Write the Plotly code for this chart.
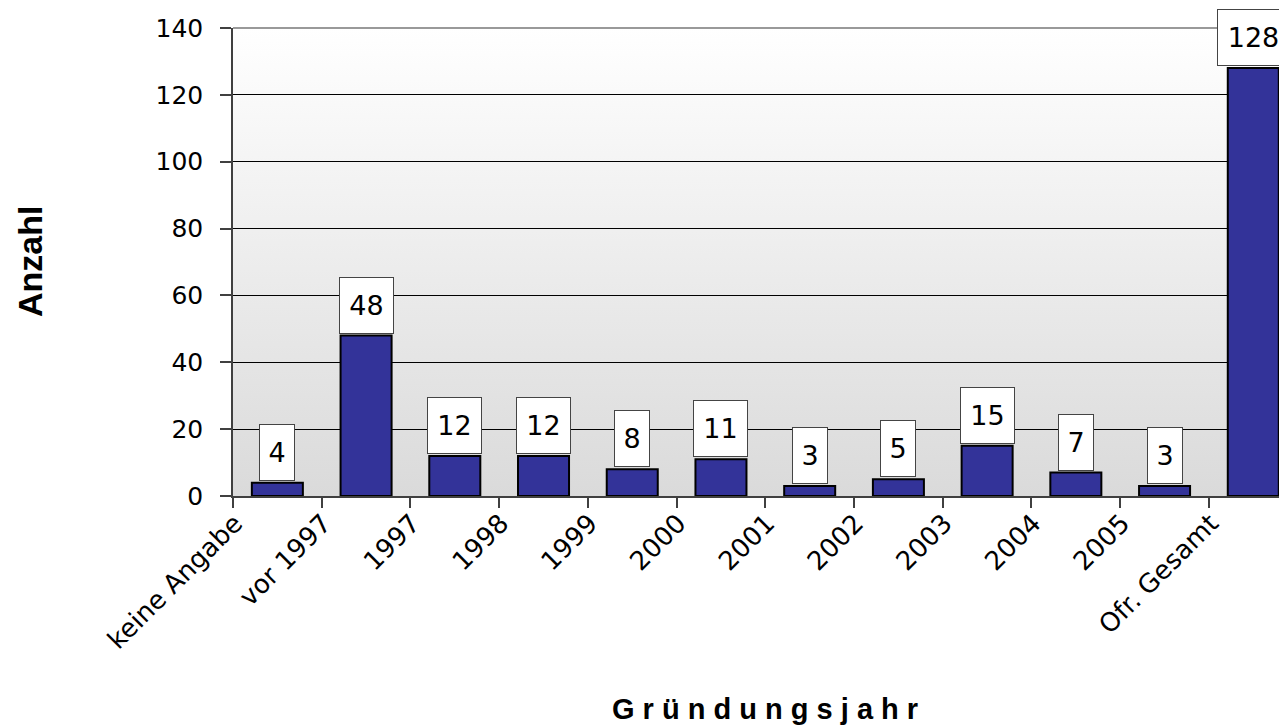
import base64
import plotly.graph_objects as go

categories = ["keine Angabe", "vor 1997", "1997", "1998", "1999", "2000",
              "2001", "2002", "2003", "2004", "2005", "Ofr. Gesamt"]
values = [4, 48, 12, 12, 8, 11, 3, 5, 15, 7, 3, 128]
y_ticks = [0, 20, 40, 60, 80, 100, 120, 140]
grid_vals = [20, 40, 60, 80, 100, 120]

x_pos = list(range(len(categories)))

svg = ('<svg xmlns="http://www.w3.org/2000/svg" width="10" height="100" preserveAspectRatio="none">'
       '<defs><linearGradient id="g" x1="0" y1="0" x2="0" y2="1">'
       '<stop offset="0" stop-color="#ffffff"/><stop offset="1" stop-color="#dadada"/>'
       '</linearGradient></defs><rect width="10" height="100" fill="url(#g)"/></svg>')
svg_uri = "data:image/svg+xml;base64," + base64.b64encode(svg.encode()).decode()

fig = go.Figure()
fig.add_trace(go.Bar(
    x=x_pos, y=values, width=0.575,
    marker=dict(color="#333399", line=dict(color="black", width=2)),
    hoverinfo="skip",
))

AX = "#404040"
# page body has an 8px default margin: figure is 1279x719 drawn from (8, 8)
W, H = 1279, 719
ML, MT, MB = 225, 19.5, 231
plot_h = H - MT - MB

fig.update_layout(
    width=W, height=H,
    margin=dict(l=ML, r=0, t=MT, b=MB),
    paper_bgcolor="white", plot_bgcolor="rgba(0,0,0,0)",
    showlegend=False,
    font=dict(family="DejaVu Sans", size=26, color="black"),
    xaxis=dict(
        range=[-0.5, 11.38],
        tickmode="array",
        tickvals=[i - 0.5 + 0.02 for i in x_pos],
        ticktext=categories,
        tickangle=-45,
        ticks="",
        showgrid=False, zeroline=False,
        showline=True, linecolor=AX, linewidth=1.5,
        tickfont=dict(family="DejaVu Sans", size=26),
        minor=dict(tickmode="array", tickvals=[i - 0.5 for i in x_pos],
                   ticks="outside", ticklen=10, tickwidth=1.5, tickcolor=AX, showgrid=False),
    ),
    yaxis=dict(
        range=[0, 140],
        tickmode="array", tickvals=y_ticks,
        ticks="outside", ticklen=11, tickwidth=1.5, tickcolor=AX,
        ticklabelstandoff=12,
        showgrid=False,
        minor=dict(tickmode="array", tickvals=grid_vals, ticks="",
                   showgrid=True, gridcolor="black", gridwidth=1),
        zeroline=False,
        showline=True, linecolor=AX, linewidth=1.5,
        tickfont=dict(family="DejaVu Sans", size=25),
    ),
    images=[dict(source=svg_uri, xref="paper", yref="paper", x=0, y=1,
                 sizex=1, sizey=1, sizing="stretch", layer="below",
                 xanchor="left", yanchor="top")],
    shapes=[dict(type="line", xref="paper", yref="paper", x0=0, x1=1, y0=1, y1=1,
                 line=dict(color="#999999", width=2), layer="below")],
)

for xi, v in zip(x_pos, values):
    label = str(v)
    w = {1: 36, 2: 55, 3: 73}[len(label)]
    fig.add_annotation(
        x=xi, y=v, xref="x", yref="y", text=label, showarrow=False,
        yanchor="bottom", xanchor="center", yshift=2,
        width=w - 2, height=55, borderpad=0,
        bgcolor="white", bordercolor="#444444", borderwidth=1,
        font=dict(family="DejaVu Sans", size=27, color="black"),
    )

fig.add_annotation(
    text="Anzahl", xref="paper", yref="paper", x=(30 - 8 - ML) / (W - ML), y=0.5,
    showarrow=False, textangle=-90, xanchor="center", yanchor="middle",
    font=dict(family="Liberation Sans", size=34, color="black", weight="bold"),
)
fig.add_annotation(
    text="G r ü n d u n g s j a h r", xref="x", yref="paper", x=5.5,
    y=-(709 - 496) / plot_h, showarrow=False, xanchor="center", yanchor="middle",
    font=dict(family="Liberation Sans", size=29, color="black", weight="bold"),
)

fig.write_html("out.html")
